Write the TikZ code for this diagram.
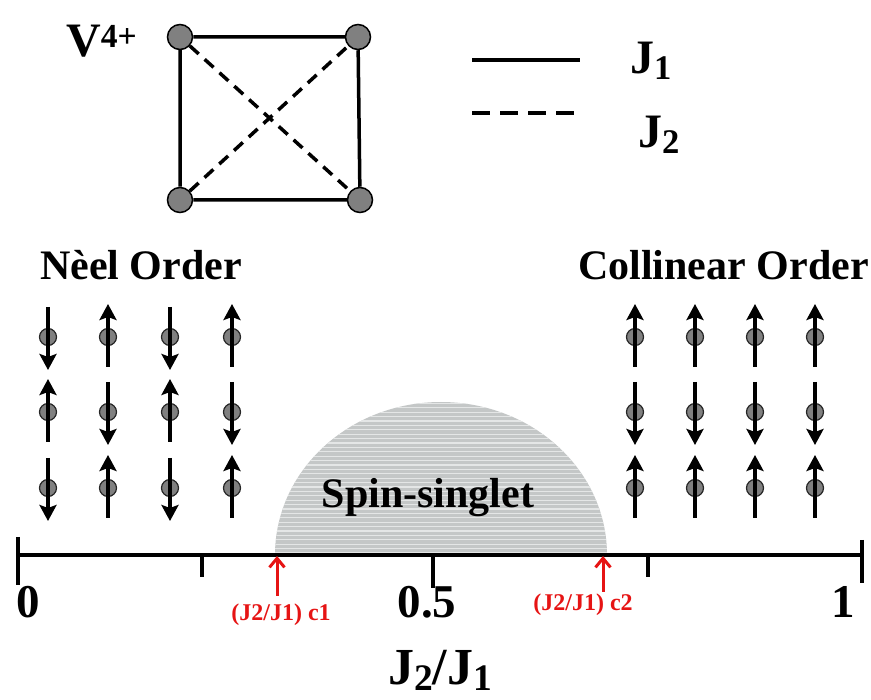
\documentclass[tikz,border=0pt]{standalone}
\usepackage{fontspec}
\setmainfont{Liberation Serif}
\usetikzlibrary{positioning, calc, arrows.meta}

\definecolor{domefill}{RGB}{196,199,199}
\definecolor{domeline}{RGB}{228,230,230}
\definecolor{critred}{RGB}{230,20,20}

% small index, lowered a little
\newcommand{\jidx}[1]{\raisebox{-0.12em}{\scalebox{0.72}{#1}}}

\tikzset{
    site/.style={circle, draw=black, line width=1.5pt, fill=gray, inner sep=0pt, minimum size=25pt},
    spinsite/.style={circle, draw=black!85, line width=1.2pt, fill=gray, inner sep=0pt, minimum size=17pt},
    spin/.style={line width=3.5pt, -{Stealth[length=16pt, width=17pt, inset=3pt]}},
    bond/.style={line width=3.5pt},
    diag/.style={line width=3.5pt, dash pattern=on 12pt off 8pt},
    crit/.style={critred, line width=3pt, -{Straight Barb[length=9pt, width=15pt]}},
    title/.style={font=\bfseries\fontsize{42}{46}\selectfont, inner sep=0pt},
    label/.style={font=\bfseries\fontsize{48}{52}\selectfont, inner sep=0pt},
    critlabel/.style={font=\bfseries\fontsize{24}{28}\selectfont, text=critred, inner sep=0pt},
    axisline/.style={line width=4pt}
}

\begin{document}
\begin{tikzpicture}[x=1pt, y=-1pt]
\useasboundingbox (0,0) rectangle (871,700);

% Define nodes
\node[site] (tl) at (180,37) {};
\node[site] (tr) at (358,37) {};
\node[site] (bl) at (180,200) {};
\node[site] (br) at (360,200) {};
\node[label, anchor=base west] (ion) at (66,57) {V\textsuperscript{4+}};

% Main edges
\draw[bond] (tl) -- (tr) -- (br) -- (bl) -- (tl);
\draw[diag] (tl) -- (br);
\draw[diag] (bl) -- (tr);

% legend
\coordinate (jonea) at (472,60);
\coordinate (joneb) at (580,60);
\coordinate (jtwoa) at (472,113);
\coordinate (jtwob) at (580,113);
\draw[line width=4pt] (jonea) -- (joneb);
\draw[line width=4pt, dash pattern=on 18pt off 10pt] (jtwoa) -- (jtwob);
\node[label, anchor=base west] (jone) at (630,74) {J\jidx{1}};
\node[label, anchor=base west] (jtwo) at (638,148) {J\jidx{2}};

% ordered phases
\node[title, anchor=base west] (neel) at (40,280) {Nèel Order};
\node[title, anchor=base west] (coll) at (578,280) {Collinear Order};

\foreach \x [count=\i] in {48,108,170,232}
  \foreach \y [count=\j] in {337,412,488} {
    \pgfmathtruncatemacro{\s}{1-2*mod(\i+\j,2)}
    \node[spinsite] (ne\i\j) at (\x,\y) {};
    \draw[spin] ($(ne\i\j)+(0,-30*\s)$) -- ($(ne\i\j)+(0,33*\s)$);
  }

\foreach \x [count=\i] in {635,695,755,815}
  \foreach \y [count=\j] in {337,412,488} {
    \pgfmathtruncatemacro{\s}{2*mod(\j+1,2)-1}
    \node[spinsite] (co\i\j) at (\x,\y) {};
    \draw[spin] ($(co\i\j)+(0,-30*\s)$) -- ($(co\i\j)+(0,33*\s)$);
  }

% spin-singlet dome
\fill[domefill] (275,555) arc[start angle=180, end angle=360, x radius=166, y radius=153] -- cycle;
\begin{scope}
  \clip (275,555) arc[start angle=180, end angle=360, x radius=166, y radius=153] -- cycle;
  \foreach \k in {0,...,35}
    \draw[domeline, line width=1.2pt] (270,{553-4.4*\k}) -- (612,{553-4.4*\k});
\end{scope}
\node[title, anchor=base] (singlet) at (428,508) {Spin-singlet};

% axis
\coordinate (a0) at (18,555);
\coordinate (a1) at (862,555);
\draw[axisline] (a0) -- (a1);
\draw[axisline] (18,537) -- (18,585);
\draw[axisline] (862,540) -- (862,583);
\draw[axisline] (202,555) -- (202,577);
\draw[axisline] (433,555) -- (433,588);
\draw[axisline] (648,555) -- (648,577);

\node[label, font=\bfseries\fontsize{47}{50}\selectfont, anchor=base] (zero) at (28,618) {0};
\node[label, font=\bfseries\fontsize{47}{50}\selectfont, anchor=base] (half) at (427,618) {0.5};
\node[label, font=\bfseries\fontsize{47}{50}\selectfont, anchor=base] (one) at (843,618) {1};
\node[label, font=\bfseries\fontsize{52}{56}\selectfont, anchor=base west] (ratio) at (388,684) {J\jidx{2}/J\jidx{1}};

% critical points
\node[critlabel, anchor=base] (cone) at (281,620) {(J2/J1) c1};
\node[critlabel, anchor=base] (ctwo) at (583,610) {(J2/J1) c2};
\coordinate (conetail) at (277,596);
\coordinate (conetip) at (277,556);
\coordinate (ctwotail) at (603,592);
\coordinate (ctwotip) at (603,556);
\draw[crit] (conetail) -- (conetip);
\draw[crit] (ctwotail) -- (ctwotip);

\end{tikzpicture}
\end{document}
